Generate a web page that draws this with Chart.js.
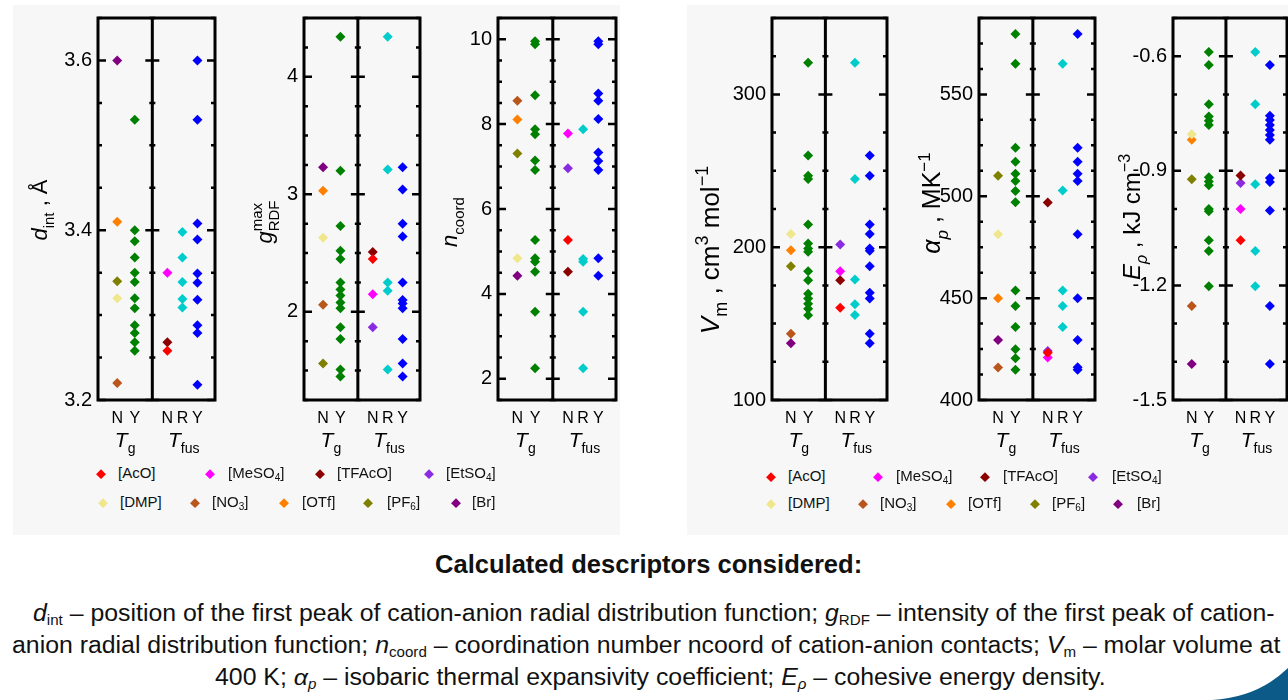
<!DOCTYPE html>
<html>
<head>
<meta charset="utf-8">
<script src="https://cdn.jsdelivr.net/npm/chart.js@4"></script>
<style>
  body { margin: 0; width: 1288px; height: 700px; overflow: hidden; background: #fff; position: relative;
         font-family: "Liberation Sans", Arial, sans-serif; }
  .fig { position: absolute; background: #f7f7f7; }
  .panel { position: absolute; top: 0; }
  .lg { position: absolute; font-size: 15px; line-height: 18px; color: #111; white-space: nowrap; }
  .lg sub { font-size: 10px; vertical-align: -3px; line-height: 0; }
  .dm { position: absolute; width: 6.8px; height: 6.8px; transform: translate(-50%, -50%) rotate(45deg); }
  .cap { position: absolute; white-space: nowrap; color: #111;
         font-family: "Liberation Sans Narrow", "Arial Narrow", "Liberation Sans", sans-serif; font-size: 23px; transform-origin: 0 0; }
  .cap sub { font-size: 14px; vertical-align: -4px; line-height: 0; }
</style>
</head>
<body>
<div class="fig" style="left:13px;top:5px;width:607px;height:530px"></div>
<div class="fig" style="left:687px;top:5px;width:601px;height:530px"></div>

<div class="cap" id="c0" style="top:550px;font-weight:bold;font-size:25px">Calculated descriptors considered:</div>
<div class="cap" id="c1" style="top:600px"><i>d</i><sub>int</sub> – position of the first peak of cation-anion radial distribution function; <i>g</i><sub>RDF</sub> – intensity of the first peak of cation-</div>
<div class="cap" id="c2" style="top:632px">anion radial distribution function; <i>n</i><sub>coord</sub> – coordination number ncoord of cation-anion contacts; <i>V</i><sub>m</sub> – molar volume at</div>
<div class="cap" id="c3" style="top:664px">400 K; <i>α<sub>p</sub></i> – isobaric thermal expansivity coefficient; <i>E<sub>ρ</sub></i> – cohesive energy density.</div>

<svg style="position:absolute;left:1200px;top:660px" width="88" height="40"><path d="M12 40 Q58 37 88 8 L88 40 Z" fill="#0b5a87"/></svg>

<script>
// anions shown in the legend
const anions = ['AcO', 'MeSO4', 'TFAcO', 'EtSO4', 'DMP', 'NO3', 'OTf', 'PF6', 'Br'];
const anionNames = ['[AcO]', '[MeSO<sub>4</sub>]', '[TFAcO]', '[EtSO<sub>4</sub>]', '[DMP]', '[NO<sub>3</sub>]', '[OTf]', '[PF<sub>6</sub>]', '[Br]'];
const anionColors = ['#ff0000', '#ff00ff', '#8b0000', '#8a2be2', '#f0e68c', '#b8561b', '#ff8000', '#808000', '#800080'];
const tgYColor = '#008000', fusRColor = '#00cccc', fusYColor = '#0000ff';

// x categories: Tg -> N, Y ; Tfus -> N, R, Y
const catLabels = ['N', 'Y', 'N', 'R', 'Y'];

// d_int, Å
const dintTgN = { Br: 3.60, OTf: 3.41, PF6: 3.34, DMP: 3.32, NO3: 3.22 };
const dintTgY = [3.53, 3.40, 3.387, 3.368, 3.35, 3.339, 3.32, 3.308, 3.288, 3.279, 3.268, 3.258];
const dintFusN = { MeSO4: 3.35, TFAcO: 3.268, AcO: 3.258 };
const dintFusR = [3.398, 3.368, 3.339, 3.319, 3.309];
const dintFusY = [3.60, 3.53, 3.408, 3.389, 3.349, 3.338, 3.318, 3.288, 3.279, 3.218];

// g_RDF max
const gTgN = { Br: 3.23, OTf: 3.03, DMP: 2.63, NO3: 2.06, PF6: 1.56 };
const gTgY = [4.34, 3.20, 2.73, 2.52, 2.45, 2.25, 2.19, 2.14, 2.08, 2.03, 1.87, 1.77, 1.51, 1.45];
const gFusN = { TFAcO: 2.51, AcO: 2.45, MeSO4: 2.15, EtSO4: 1.87 };
const gFusR = [4.34, 3.21, 2.25, 2.18, 1.51];
const gFusY = [3.23, 3.04, 2.75, 2.64, 2.25, 2.10, 2.07, 2.03, 1.77, 1.56, 1.45];

// n_coord
const nTgN = { NO3: 8.55, OTf: 8.11, PF6: 7.31, DMP: 4.84, Br: 4.43 };
const nTgY = [9.95, 9.88, 8.68, 7.88, 7.76, 7.14, 6.92, 5.27, 4.84, 4.76, 4.52, 3.58, 2.25];
const nFusN = { MeSO4: 7.78, EtSO4: 6.96, AcO: 5.27, TFAcO: 4.52 };
const nFusR = [7.88, 4.82, 4.76, 3.58, 2.25];
const nFusY = [9.95, 9.88, 8.72, 8.55, 8.12, 7.33, 7.13, 6.92, 4.84, 4.43];

// V_m, cm3 mol-1
const vTgN = { DMP: 208.7, OTf: 198.0, PF6: 187.6, NO3: 143.4, Br: 137.2 };
const vTgY = [320.7, 260.0, 246.8, 244.6, 214.8, 202.4, 199.2, 197.0, 184.3, 178.3, 169.6, 166.5, 163.0, 159.8, 155.4];
const vFusN = { EtSO4: 201.7, MeSO4: 184.3, TFAcO: 178.3, AcO: 160.4 };
const vFusR = [320.7, 244.6, 178.9, 162.6, 155.6];
const vFusY = [260.0, 246.8, 214.8, 208.7, 199.2, 197.6, 187.6, 170.2, 166.5, 143.4, 137.2];

// alpha_p, MK-1
const aTgN = { PF6: 510.1, DMP: 481.4, OTf: 449.9, Br: 429.5, NO3: 415.9 };
const aTgY = [579.7, 565.0, 523.8, 517.0, 511.0, 507.5, 502.6, 497.1, 453.8, 446.1, 435.8, 424.9, 420.5, 414.8];
const aFusN = { TFAcO: 496.9, EtSO4: 424.1, MeSO4: 420.8, AcO: 423.2 };
const aFusR = [565.0, 502.8, 453.8, 446.1, 435.8];
const aFusY = [579.7, 523.8, 517.0, 511.0, 507.5, 481.4, 449.9, 429.5, 416.1, 414.8];

// E_rho, kJ cm-3
const eTgN = { DMP: -0.804, OTf: -0.819, PF6: -0.922, NO3: -1.254, Br: -1.406 };
const eTgY = [-0.589, -0.623, -0.726, -0.758, -0.769, -0.780, -0.917, -0.928, -0.938, -1.000, -1.006, -1.082, -1.110, -1.202];
const eFusN = { TFAcO: -0.912, EtSO4: -0.932, MeSO4: -1.000, AcO: -1.082 };
const eFusR = [-0.589, -0.726, -0.935, -1.110, -1.202];
const eFusY = [-0.623, -0.756, -0.767, -0.780, -0.793, -0.806, -0.819, -0.919, -0.929, -1.004, -1.254, -1.406];

// layout
const FONT = '"Liberation Sans", Arial, sans-serif';
const catPos = [1.15, 2.2, 4.15, 5.05, 5.95];
const dividerPos = 3.25;
const YW = 100, H = 460, TOP = 15, BOT = 400;

const panels = [
  { L: 98, R: 215, min: 3.2, max: 3.65, step: 0.05, major: 0.2, dec: 1,
    sets: [dintTgN, dintTgY, dintFusN, dintFusR, dintFusY],
    title: [{ t: 'd', i: 1 }, { t: 'int', s: 'sub' }, { t: ' , Å' }], tx: 47, ty: 210, ts: 22 },
  { L: 304, R: 420, min: 1.25, max: 4.5, step: 0.25, major: 1, dec: 0,
    sets: [gTgN, gTgY, gFusN, gFusR, gFusY],
    title: [{ t: 'g', i: 1 }, { t: 'RDF', s: 'sub', sup: 'max' }], tx: 272, ty: 222, ts: 22 },
  { L: 498, R: 616, min: 1.5, max: 10.5, step: 0.5, major: 2, dec: 0,
    sets: [nTgN, nTgY, nFusN, nFusR, nFusY],
    title: [{ t: 'n', i: 1 }, { t: 'coord', s: 'sub' }], tx: 457, ty: 222, ts: 22 },
  { L: 772, R: 887, min: 100, max: 350, step: 25, major: 100, dec: 0,
    sets: [vTgN, vTgY, vFusN, vFusR, vFusY],
    title: [{ t: 'V', i: 1 }, { t: 'm', s: 'sub' }, { t: ' , cm' }, { t: '3', s: 'sup' }, { t: ' mol' }, { t: '−1', s: 'sup' }],
    tx: 719, ty: 250, ts: 26 },
  { L: 979, R: 1095, min: 400, max: 587.5, step: 12.5, major: 50, dec: 0,
    sets: [aTgN, aTgY, aFusN, aFusR, aFusY],
    title: [{ t: 'α', i: 1 }, { t: 'p', s: 'sub', i: 1 }, { t: ' , MK' }, { t: '−1', s: 'sup' }], tx: 940, ty: 203, ts: 25 },
  { L: 1173, R: 1287, min: -1.5, max: -0.5, step: 0.1, major: 0.3, dec: 1,
    sets: [eTgN, eTgY, eFusN, eFusR, eFusY],
    title: [{ t: 'E', i: 1 }, { t: 'ρ', s: 'sub', i: 1 }, { t: ' , kJ cm' }, { t: '−3', s: 'sup' }], tx: 1140, ty: 217, ts: 24 }
];

function fontOf(size, italic) {
  return (italic ? 'italic ' : '') + size + 'px ' + FONT;
}

// rich text (subscripts / superscripts), optionally rotated
function drawRich(ctx, parts, cx, cy, size, rot) {
  ctx.save();
  ctx.translate(cx, cy);
  if (rot) ctx.rotate(-Math.PI / 2);
  ctx.textAlign = 'left';
  ctx.textBaseline = 'alphabetic';
  ctx.fillStyle = '#000';
  const small = Math.round(size * 0.68);
  const widths = parts.map(p => {
    ctx.font = fontOf(p.s ? small : size, p.i);
    let w = ctx.measureText(p.t).width;
    if (p.sup) { ctx.font = fontOf(small, 0); w = Math.max(w, ctx.measureText(p.sup).width); }
    return w;
  });
  let x = -widths.reduce((a, b) => a + b, 0) / 2;
  parts.forEach((p, k) => {
    ctx.font = fontOf(p.s ? small : size, p.i);
    const dy = p.s === 'sub' ? size * 0.3 : p.s === 'sup' ? -size * 0.42 : 0;
    ctx.fillText(p.t, x, dy);
    if (p.sup) { ctx.font = fontOf(small, 0); ctx.fillText(p.sup, x, -size * 0.45); }
    x += widths[k];
  });
  ctx.restore();
}

const frameTicks = {
  id: 'frameTicks',
  afterDatasetsDraw(chart, args, o) {
    const { ctx, chartArea: a, scales: { x, y } } = chart;
    const div = x.getPixelForValue(dividerPos);
    ctx.save();
    ctx.strokeStyle = '#000';
    ctx.lineWidth = 3;
    ctx.strokeRect(a.left, a.top, a.right - a.left, a.bottom - a.top);
    ctx.beginPath();
    ctx.moveTo(div, a.top);
    ctx.lineTo(div, a.bottom);
    ctx.stroke();
    ctx.lineWidth = 2.5;
    y.ticks.forEach(t => {
      const py = y.getPixelForValue(t.value);
      const len = t.label ? 8 : 4;
      ctx.beginPath();
      ctx.moveTo(a.left, py); ctx.lineTo(a.left + len, py);
      ctx.moveTo(a.right - len, py); ctx.lineTo(a.right, py);
      ctx.moveTo(div - len + 1, py); ctx.lineTo(div + len - 1, py);
      ctx.stroke();
    });
    ctx.restore();
    // group labels Tg / Tfus
    drawRich(ctx, [{ t: 'T', i: 1 }, { t: 'g', s: 'sub' }], (a.left + div) / 2, 447, 21, false);
    drawRich(ctx, [{ t: 'T', i: 1 }, { t: 'fus', s: 'sub' }], (div + a.right) / 2, 447, 21, false);
    // y title
    drawRich(ctx, o.title, o.tx, o.ty, o.ts, true);
  }
};

function buildDatasets(sets) {
  const [tgN, tgY, fusN, fusR, fusY] = sets;
  const ds = [
    { data: tgY.map(v => ({ x: catPos[1], y: v })), backgroundColor: tgYColor },
    { data: fusR.map(v => ({ x: catPos[3], y: v })), backgroundColor: fusRColor },
    { data: fusY.map(v => ({ x: catPos[4], y: v })), backgroundColor: fusYColor }
  ];
  anions.forEach((an, k) => {
    const pts = [];
    if (an in tgN) pts.push({ x: catPos[0], y: tgN[an] });
    if (an in fusN) pts.push({ x: catPos[2], y: fusN[an] });
    if (pts.length) ds.push({ label: an, data: pts, backgroundColor: anionColors[k] });
  });
  ds.forEach(d => {
    d.pointStyle = 'rectRot';
    d.pointRadius = 5;
    d.borderWidth = 0;
    d.borderColor = d.backgroundColor;
  });
  return ds;
}

panels.forEach(p => {
  const left = p.L - YW;
  const w = p.R - p.L + YW + 6;
  const box = document.createElement('div');
  box.className = 'panel';
  box.style.left = left + 'px';
  box.style.width = w + 'px';
  box.style.height = H + 'px';
  const cv = document.createElement('canvas');
  cv.width = w; cv.height = H;
  cv.style.width = w + 'px'; cv.style.height = H + 'px';
  box.appendChild(cv);
  document.body.appendChild(box);

  const isMajor = v => Math.abs(v / p.major - Math.round(v / p.major)) < 1e-6;

  new Chart(cv, {
    type: 'scatter',
    data: { datasets: buildDatasets(p.sets) },
    options: {
      responsive: false,
      animation: false,
      layout: { padding: { top: TOP, right: 6, left: 0, bottom: 0 } },
      plugins: {
        legend: { display: false },
        tooltip: { enabled: false },
        frameTicks: { title: p.title, tx: p.tx - left, ty: p.ty, ts: p.ts }
      },
      scales: {
        x: {
          type: 'linear', min: 0, max: 7,
          grid: { display: false, drawTicks: false },
          border: { display: false },
          afterBuildTicks: s => { s.ticks = catPos.map(v => ({ value: v })); },
          afterFit: s => { s.height = H - BOT; },
          ticks: { autoSkip: false, maxRotation: 0, padding: 9, color: '#000',
                   font: { size: 16, family: FONT }, callback: (v, i) => catLabels[i] }
        },
        y: {
          min: p.min, max: p.max,
          grid: { display: false, drawTicks: false },
          border: { display: false },
          afterFit: s => { s.width = YW; },
          ticks: { stepSize: p.step, autoSkip: false, padding: 6, color: '#000',
                   font: { size: 20, family: FONT },
                   callback: v => isMajor(v) ? Number(v).toFixed(p.dec) : '' }
        }
      }
    },
    plugins: [frameTicks]
  });
});

// legends (HTML, for the subscripts)
const legendRows = [
  { y: 474, items: [[0, 101, 118], [1, 210, 228], [2, 320, 337], [3, 429, 446]] },
  { y: 503, items: [[4, 103, 120], [5, 195, 212], [6, 284, 302], [7, 368, 387], [8, 456, 472]] },
  { y: 477, items: [[0, 771, 788], [1, 878, 896], [2, 985, 1003], [3, 1093, 1112]] },
  { y: 504, items: [[4, 771, 788], [5, 863, 880], [6, 951, 968], [7, 1035, 1052], [8, 1118, 1137]] }
];
legendRows.forEach(row => {
  row.items.forEach(([k, dx, tx]) => {
    const d = document.createElement('div');
    d.className = 'dm';
    d.style.left = dx + 'px';
    d.style.top = row.y + 'px';
    d.style.background = anionColors[k];
    document.body.appendChild(d);
    const t = document.createElement('div');
    t.className = 'lg';
    t.style.left = tx + 'px';
    t.style.top = (row.y - 10) + 'px';
    t.innerHTML = anionNames[k];
    document.body.appendChild(t);
  });
});

// caption: one horizontal squeeze for the paragraph, fitted on its first line
const c0 = document.getElementById('c0');
c0.style.left = '435px';
c0.style.transform = 'scaleX(' + (427 / c0.offsetWidth) + ')';
const c1 = document.getElementById('c1');
const sx = 1242 / c1.offsetWidth;
[['c1', 33, null], ['c2', 12, null], ['c3', null, 660]].forEach(([id, x, cx]) => {
  const el = document.getElementById(id);
  const w = el.offsetWidth * sx;
  el.style.left = (x !== null ? x : cx - w / 2) + 'px';
  el.style.transform = 'scaleX(' + sx + ')';
});
</script>
</body>
</html>
